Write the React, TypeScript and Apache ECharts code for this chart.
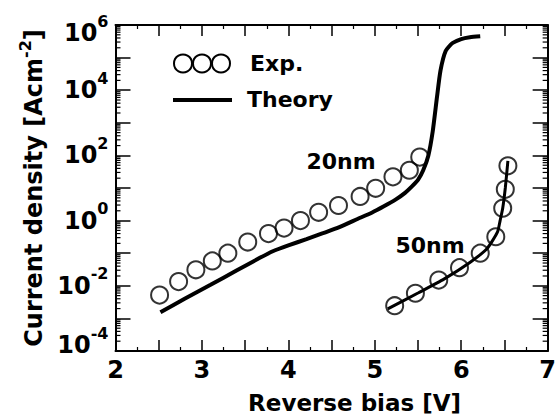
import React, { useEffect, useRef } from "react";
import * as echarts from "echarts";

// ---- data ----
const exp20X = [2.51, 2.73, 2.93, 3.12, 3.3, 3.53, 3.77, 3.95, 4.14, 4.35, 4.58, 4.83, 5.01, 5.21, 5.4, 5.52];
const exp20Y = [5.2e-3, 1.35e-2, 3.1e-2, 5.8e-2, 0.1, 0.22, 0.4, 0.59, 1.0, 1.8, 2.9, 5.5, 9.8, 22, 35, 89];

const theory20X = [2.52, 2.8, 3.1, 3.4, 3.67, 3.82, 4.0, 4.21, 4.4, 4.59, 4.8, 4.97, 5.1, 5.24, 5.35, 5.43, 5.5, 5.56, 5.62, 5.67, 5.72, 5.76, 5.82, 5.9, 6.0, 6.1, 6.22];
const theory20Y = [1.55e-3, 4.0e-3, 1.07e-2, 2.95e-2, 7.2e-2, 0.115, 0.174, 0.27, 0.41, 0.63, 1.12, 1.78, 2.7, 4.4, 7.1, 11.2, 17.8, 35, 100, 540, 6300, 4.0e4, 1.6e5, 2.8e5, 3.7e5, 4.2e5, 4.5e5];

const exp50X = [5.23, 5.47, 5.74, 5.98, 6.22, 6.4, 6.48, 6.51, 6.54];
const exp50Y = [2.45e-3, 5.9e-3, 1.5e-2, 3.6e-2, 0.1, 0.32, 2.4, 9.1, 48];

const theory50X = [5.15, 5.5, 5.8, 6.1, 6.3, 6.42, 6.45, 6.48, 6.51, 6.54];
const theory50Y = [1.95e-3, 6.0e-3, 1.6e-2, 5.2e-2, 0.14, 0.45, 1.0, 2.4, 10, 68];

// axis ticks
const xMin = 2;
const xMax = 7;
const yMin = 1e-4;
const yMax = 1e6;
const yDecades = [-4, -3, -2, -1, 0, 1, 2, 3, 4, 5];
const yMinorMantissas = [2, 3, 4, 5, 6, 7, 8, 9];

const FONT = "'DejaVu Sans', 'Liberation Sans', Arial, sans-serif";

const zip = (xs: number[], ys: number[]) => xs.map((x, i) => [x, ys[i]]);

export default function App() {
  const ref = useRef<HTMLDivElement>(null);

  useEffect(() => {
    if (!ref.current) return;
    const chart = echarts.init(ref.current, undefined, { renderer: "svg" });

    const minorTicks: number[][] = [];
    yDecades.forEach((d) => {
      yMinorMantissas.forEach((m) => minorTicks.push([xMin, m * Math.pow(10, d)]));
    });

    const xAxisCommon = {
      type: "value" as const,
      min: xMin,
      max: xMax,
      interval: 0.5,
      axisLine: { show: true, onZero: false, lineStyle: { color: "#000", width: 2 } },
      axisTick: { show: true, inside: true, length: 11, lineStyle: { color: "#000", width: 1.5 } },
      minorTick: { show: true, splitNumber: 2, length: 4, lineStyle: { color: "#000", width: 1.2 } },
      splitLine: { show: false },
    };

    const yAxisCommon = {
      type: "log" as const,
      logBase: 10,
      min: yMin,
      max: yMax,
      splitNumber: 10,
      axisLine: { show: true, onZero: false, lineStyle: { color: "#000", width: 2 } },
      axisTick: { show: true, inside: true, length: 15, lineStyle: { color: "#000", width: 1.5 } },
      splitLine: { show: false },
    };

    const labelRich = {
      b: { fontFamily: FONT, fontWeight: "bold", fontSize: 24, lineHeight: 40, color: "#000" },
      s: { fontFamily: FONT, fontWeight: "bold", fontSize: 16, lineHeight: 16, verticalAlign: "top", color: "#000" },
      e: { fontSize: 10, lineHeight: 16 },
      f: { fontSize: 10, lineHeight: 12 },
    };

    const option: any = {
      animation: false,
      backgroundColor: "#fff",
      grid: { left: 115.5, right: 10, top: 16.7, bottom: 66, containLabel: false },
      xAxis: [
        {
          ...xAxisCommon,
          position: "bottom",
          name: "Reverse bias [V]",
          nameLocation: "middle",
          nameGap: 40,
          nameTextStyle: { fontFamily: FONT, fontWeight: "bold", fontSize: 23, color: "#000", padding: [0, 0, 0, 46] },
          axisLabel: {
            margin: 7,
            fontFamily: FONT,
            fontWeight: "bold",
            fontSize: 24,
            color: "#000",
            formatter: (v: number) => (Math.abs(v - Math.round(v)) < 1e-6 ? String(Math.round(v)) : ""),
          },
        },
        {
          ...xAxisCommon,
          position: "top",
          axisLabel: { show: false },
        },
      ],
      yAxis: [
        {
          ...yAxisCommon,
          position: "left",
          name: "{a|Current density [Acm}{s|-2}{a|]}",
          nameLocation: "middle",
          nameGap: 62,
          nameTextStyle: {
            color: "#000",
            rich: {
              a: { fontFamily: FONT, fontWeight: "bold", fontSize: 24, lineHeight: 34, color: "#000" },
              s: { fontFamily: FONT, fontWeight: "bold", fontSize: 16, lineHeight: 16, verticalAlign: "top", color: "#000" },
            },
          },
          axisLabel: {
            margin: 7,
            color: "#000",
            formatter: (v: number) => {
              const e = Math.round(Math.log10(v));
              if (e % 2 !== 0) return "";
              if (e === 6) return `{e| }\n{b|10}{s|${e}}`;
              if (e === -4) return `{b|10}{s|${e}}\n{f| }`;
              return `{b|10}{s|${e}}`;
            },
            rich: labelRich,
          },
        },
        {
          ...yAxisCommon,
          position: "right",
          axisLabel: { show: false },
        },
      ],
      series: [
        {
          type: "custom",
          name: "minorTicks",
          silent: true,
          clip: false,
          xAxisIndex: 0,
          yAxisIndex: 0,
          data: minorTicks,
          renderItem: (params: any, api: any) => {
            const p = api.coord([api.value(0), api.value(1)]);
            const cs = params.coordSys;
            const len = 5;
            return {
              type: "group",
              children: [
                { type: "line", shape: { x1: cs.x, y1: p[1], x2: cs.x + len, y2: p[1] }, style: { stroke: "#000", lineWidth: 1.2 } },
                { type: "line", shape: { x1: cs.x + cs.width, y1: p[1], x2: cs.x + cs.width - len, y2: p[1] }, style: { stroke: "#000", lineWidth: 1.2 } },
              ],
            };
          },
        },
        {
          type: "line",
          name: "Theory 20nm",
          data: zip(theory20X, theory20Y),
          showSymbol: false,
          smooth: 0.2,
          lineStyle: { color: "#000", width: 4 },
        },
        {
          type: "line",
          name: "Theory 50nm",
          data: zip(theory50X, theory50Y),
          showSymbol: false,
          smooth: 0.2,
          lineStyle: { color: "#000", width: 3 },
        },
        {
          type: "scatter",
          name: "Exp. 20nm",
          data: zip(exp20X, exp20Y),
          symbol: "circle",
          symbolSize: 17,
          itemStyle: { color: "rgba(0,0,0,0)", borderColor: "#000", borderWidth: 2 },
        },
        {
          type: "scatter",
          name: "Exp. 50nm",
          data: zip(exp50X, exp50Y),
          symbol: "circle",
          symbolSize: 17,
          itemStyle: { color: "rgba(0,0,0,0)", borderColor: "#000", borderWidth: 2 },
        },
      ],
      graphic: [
        { type: "circle", shape: { cx: 183, cy: 63.5, r: 9 }, style: { fill: "none", stroke: "#000", lineWidth: 2 } },
        { type: "circle", shape: { cx: 202, cy: 63.5, r: 9 }, style: { fill: "none", stroke: "#000", lineWidth: 2 } },
        { type: "circle", shape: { cx: 221, cy: 63.5, r: 9 }, style: { fill: "none", stroke: "#000", lineWidth: 2 } },
        {
          type: "text",
          x: 250,
          y: 63.5,
          style: { text: "Exp.", fontFamily: FONT, fontWeight: "bold", fontSize: 22, fill: "#000", verticalAlign: "middle" },
        },
        { type: "line", shape: { x1: 173, y1: 100, x2: 232, y2: 100 }, style: { stroke: "#000", lineWidth: 4 } },
        {
          type: "text",
          x: 247,
          y: 99.5,
          style: { text: "Theory", fontFamily: FONT, fontWeight: "bold", fontSize: 22, fill: "#000", verticalAlign: "middle" },
        },
        {
          type: "text",
          x: 341,
          y: 161,
          style: { text: "20nm", fontFamily: FONT, fontWeight: "bold", fontSize: 22, fill: "#000", align: "center", verticalAlign: "middle" },
        },
        {
          type: "text",
          x: 430,
          y: 245,
          style: { text: "50nm", fontFamily: FONT, fontWeight: "bold", fontSize: 22, fill: "#000", align: "center", verticalAlign: "middle" },
        },
      ],
    };

    chart.setOption(option);
    return () => chart.dispose();
  }, []);

  return (
    <div
      ref={ref}
      style={{ position: "absolute", left: 0, top: 0, width: 559, height: 419, background: "#fff" }}
    />
  );
}
